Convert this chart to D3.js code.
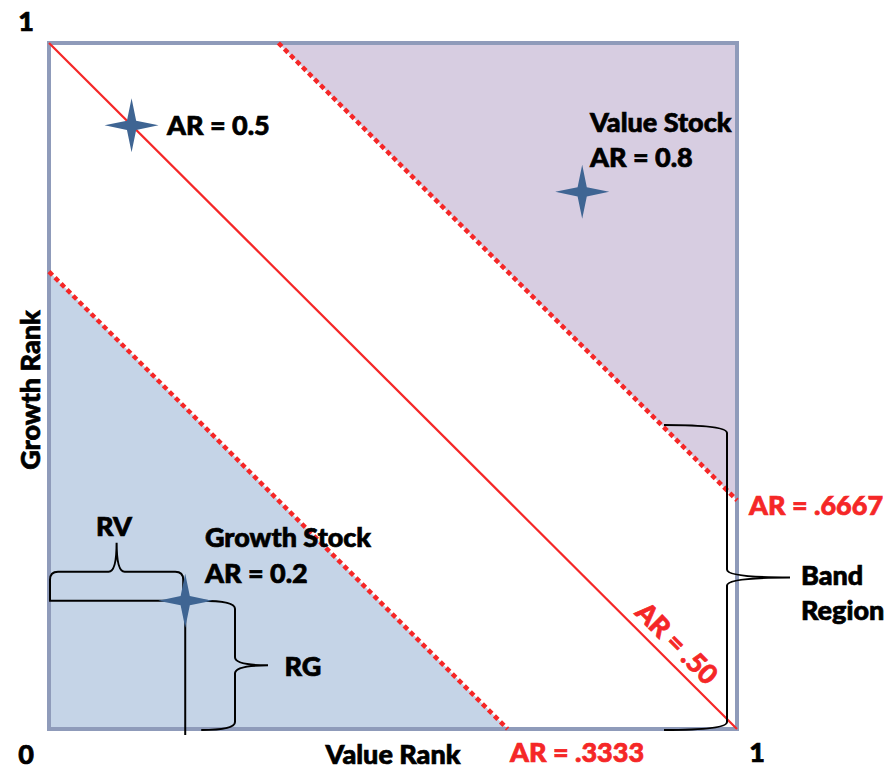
<!DOCTYPE html>
<html><head><meta charset="utf-8">
<script src="https://cdn.jsdelivr.net/npm/d3@7"></script>
<style>body{margin:0;background:#fff}svg{display:block}text{font-family:Lato,"Open Sans",sans-serif;font-weight:900}</style>
</head><body><svg id="c" width="889" height="771"></svg>
<script>
// AR = (valueRank + growthRank)/2 ; lines where valueRank + growthRank = 2*AR
const bandLevels = [0.3333, 0.50, 0.6667];
const bandLabels = ["AR = .3333", "AR = .50", "AR = .6667"];
const stockNames = ["AR = 0.5", "Value Stock", "Growth Stock"];
const stockAR = ["", "AR = 0.8", "AR = 0.2"];
const stockValueRank = [0.12, 0.775, 0.198];
const stockGrowthRank = [0.88, 0.783, 0.187];
const axisTicks = [0, 1];
const axisTitles = ["Value Rank", "Growth Rank"];

const svg = d3.select("#c");
const x = d3.scaleLinear().domain([0,1]).range([49,737]);
const y = d3.scaleLinear().domain([0,1]).range([729,43]);
const red = "#f52727", ink = "#000";

const lo = 2*bandLevels[0], hi = 2*bandLevels[2];
const line = d3.line().x(d=>x(d[0])).y(d=>y(d[1]));
svg.append("path").attr("d", line([[0,0],[lo,0],[0,lo]])+"Z").attr("fill","#c5d4e7");
svg.append("path").attr("d", line([[1,1],[hi-1,1],[1,hi-1]])+"Z").attr("fill","#d7cde1");

svg.append("rect").attr("x",x(0)).attr("y",y(1)).attr("width",x(1)-x(0)).attr("height",y(0)-y(1))
  .attr("fill","none").attr("stroke","#8f9bba").attr("stroke-width",4);

function seg(s){ return s<=1 ? [[0,s],[s,0]] : [[s-1,1],[1,s-1]]; }
bandLevels.forEach((l,i)=>{
  const p = svg.append("path").attr("d", line(seg(2*l))).attr("stroke",red).attr("fill","none");
  if(i===1) p.attr("stroke-width",2.2);
  else p.attr("stroke-width",4.5).attr("stroke-dasharray","5,3.5");
});

const gx = x(stockValueRank[2]), gy = y(stockGrowthRank[2]);
svg.append("line").attr("x1",x(0)).attr("x2",gx).attr("y1",gy).attr("y2",gy).attr("stroke",ink).attr("stroke-width",2);
svg.append("line").attr("x1",gx).attr("x2",gx).attr("y1",gy).attr("y2",y(0)+6).attr("stroke",ink).attr("stroke-width",2);

function hBrace(x1,x2,yb,h){
  const m=(x1+x2)/2, q=h/2, r=8;
  return `M${x1},${yb} L${x1},${yb+q+r} Q${x1},${yb+q} ${x1+r},${yb+q} L${m-r},${yb+q} Q${m},${yb+q} ${m},${yb+h}`+
         ` Q${m},${yb+q} ${m+r},${yb+q} L${x2-r},${yb+q} Q${x2},${yb+q} ${x2},${yb+q+r} L${x2},${yb}`;
}
function vBrace(y1,y2,x0,xm,xt){
  const m=(y1+y2)/2, r=8;
  return `M${x0},${y1} Q${xm},${y1} ${xm},${y1+r} L${xm},${m-r} Q${xm},${m} ${xt},${m}`+
         ` Q${xm},${m} ${xm},${m+r} L${xm},${y2-r} Q${xm},${y2} ${x0},${y2}`;
}
svg.append("path").attr("d",hBrace(x(0)+1,gx-2,gy,-58)).attr("fill","none").attr("stroke",ink).attr("stroke-width",2);
svg.append("path").attr("d",vBrace(gy,y(0)+1,gx+16,235,268)).attr("fill","none").attr("stroke",ink).attr("stroke-width",2);
svg.append("path").attr("d",vBrace(425,y(0)+1,664,727,790)).attr("fill","none").attr("stroke",ink).attr("stroke-width",2);

function star(cx,cy,R,r){
  const pts=[];
  for(let k=0;k<8;k++){const a=k*Math.PI/4 - Math.PI/2; const rr = k%2===0?R:r; pts.push([cx+rr*Math.cos(a),cy+rr*Math.sin(a)]);}
  return "M"+pts.map(p=>p.join(",")).join("L")+"Z";
}
stockValueRank.forEach((v,i)=>{
  svg.append("path").attr("d",star(x(v),y(stockGrowthRank[i]),27,6.5)).attr("fill","#3f6593");
});

const T=(t,xx,yy,opt={})=>{const c=opt.c||ink;const e=svg.append("text").attr("x",xx).attr("y",yy).text(t)
  .attr("font-size",opt.fs||27).attr("fill",c).attr("stroke",c).attr("stroke-width",0.7).attr("text-anchor",opt.a||"start");
  if(opt.rot) e.attr("transform",`rotate(${opt.rot},${xx},${yy})`); return e;};
T(stockNames[0],167,135);
T(stockNames[1],590,132); T(stockAR[1],590,167);
T(stockNames[2],205,547); T(stockAR[2],205,583);
T("RV",114,536,{a:"middle"});
T("RG",303,676,{a:"middle"});
T("Band",801,585); T("Region",801,620);
T(bandLabels[2],749,515,{c:red});
T(bandLabels[0],510,762,{c:red});
T(bandLabels[1],670,650,{c:red,a:"middle",rot:45});
T(String(axisTicks[1]),26,31,{a:"middle"});
T(String(axisTicks[0]),26,764,{a:"middle"});
T(String(axisTicks[1]),757,762,{a:"middle"});
T(axisTitles[0],393,764,{a:"middle"});
T(axisTitles[1],40,390,{a:"middle",rot:-90});
</script></body></html>
